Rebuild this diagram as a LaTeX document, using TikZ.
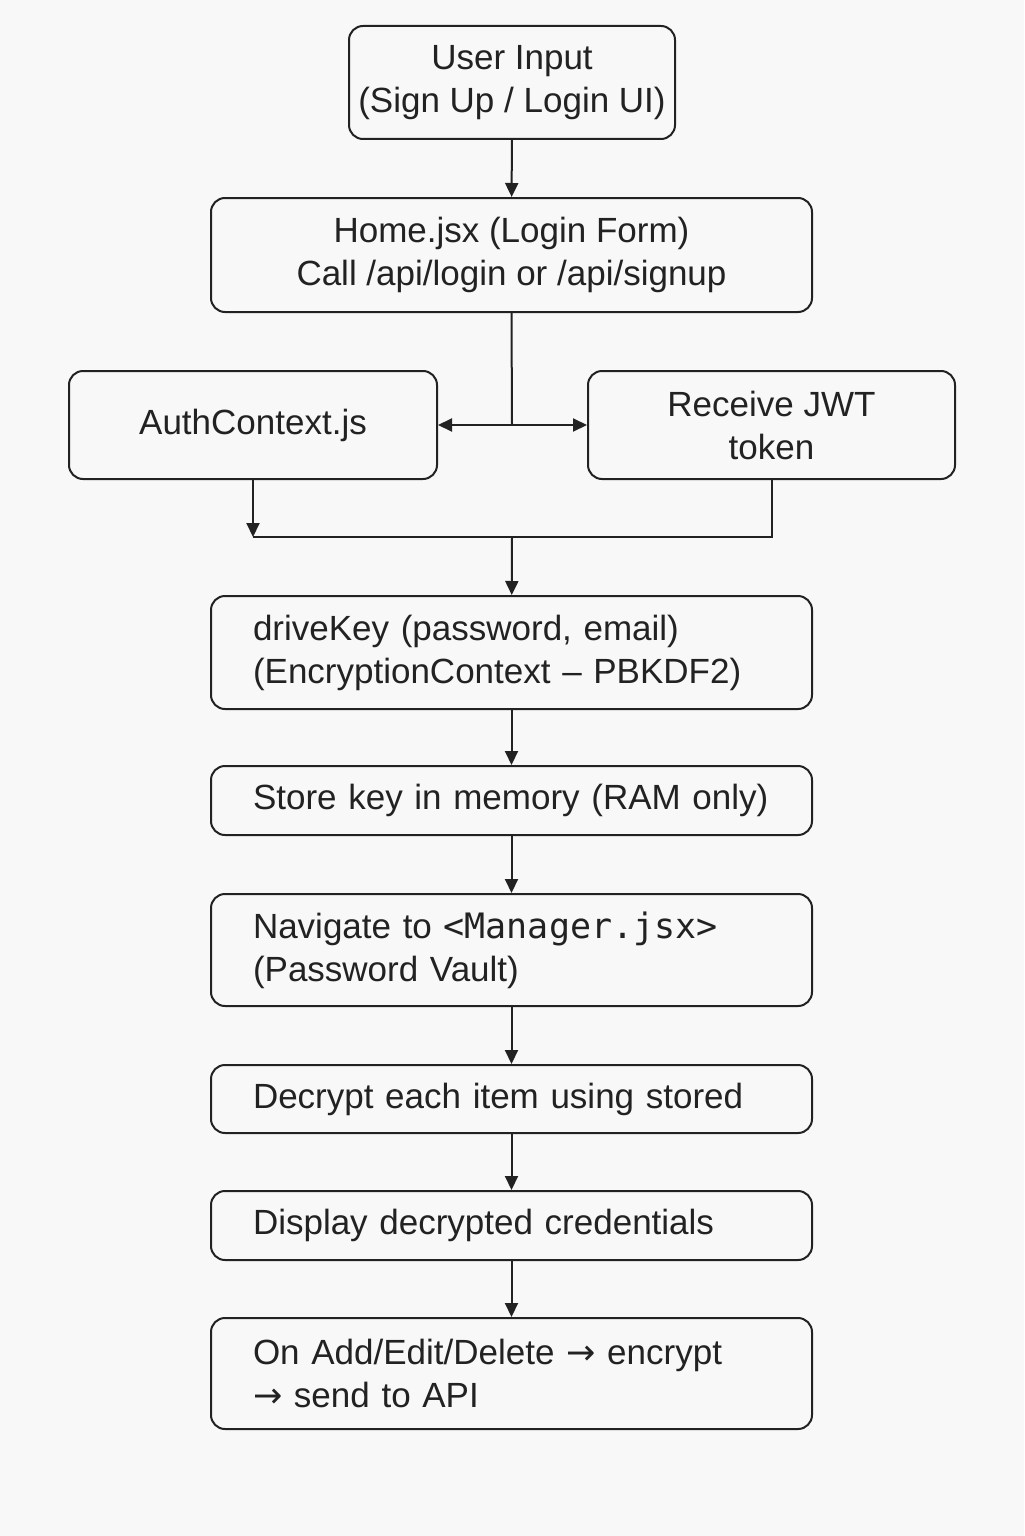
\documentclass[tikz,border=0pt]{standalone}
\usepackage{fontspec}
\setmainfont{Liberation Sans}
\setmonofont{DejaVu Sans Mono}
\newfontfamily\arrowfont{DejaVu Sans}
\usepackage{tikz}
\usepackage{xcolor}
\usetikzlibrary{arrows.meta}
\definecolor{pagecolor}{HTML}{F8F8F8}
\definecolor{linecolor}{HTML}{222222}
\tikzstyle{flowbox} =[
    draw=linecolor,
    line width=1pt,
    rounded corners=7pt,
    rectangle,
    text=linecolor,
    font=\fontsize{17.5}{21.5}\selectfont,
    inner xsep=21pt,
    text width=258.5pt,
    align=left
    ]
\tikzstyle{centerbox} =[
    draw=linecolor,
    line width=1pt,
    rounded corners=7pt,
    rectangle,
    text=linecolor,
    font=\fontsize{17.5}{21.5}\selectfont,
    inner xsep=4pt,
    align=center
    ]
\tikzstyle{flowline} =[draw=linecolor, line width=1pt]
\tikzstyle{flowarrow} =[flowline, -{Triangle[length=7pt,width=6.5pt]}]

\begin{document}
\begin{tikzpicture}[x=0.5pt, y=-0.5pt]
\useasboundingbox[fill=pagecolor] (0,0) rectangle (1024,1536);

\node [centerbox, minimum width=163pt, minimum height=56.5pt] (input) at (512,82.5)
    {User Input\\(Sign Up / Login UI)};
\node [centerbox, minimum width=300.5pt, minimum height=57pt] (home) at (511.5,255)
    {Home.jsx (Login Form)\\Call /api/login or /api/signup};
\node [centerbox, minimum width=184pt, minimum height=54pt] (auth) at (253,425)
    {AuthContext.js};
\node [centerbox, minimum width=183.5pt, minimum height=54pt] (jwt) at (771.5,425)
    {Receive JWT\\token};
\node [flowbox, minimum height=56.5pt] (derive) at (511.5,652.5)
    {driveKey (password, email)\\(EncryptionContext -- PBKDF2)};
\node [flowbox, minimum height=34.5pt] (store) at (511.5,800.5)
    {Store key in memory (RAM only)};
\node [flowbox, minimum height=56pt] (manager) at (511.5,950)
    {Navigate to \texttt{<Manager.jsx>}\\(Password Vault)};
\node [flowbox, minimum height=34pt] (decrypt) at (511.5,1099)
    {Decrypt each item using stored};
\node [flowbox, minimum height=34.5pt] (display) at (511.5,1225.5)
    {Display decrypted credentials};
\node [flowbox, minimum height=55.5pt] (save) at (511.5,1373.5)
    {On Add/Edit/Delete {\arrowfont →} encrypt\\{\arrowfont →} send to API};

\coordinate (split) at (512,425);
\coordinate (merge) at (512,537);

\draw [flowarrow] (input) -- (home);
\draw [flowline] (home.south) -- (split);
\draw [flowarrow] (split) -- (auth);
\draw [flowarrow] (split) -- (jwt);
\draw [flowarrow] (auth.south) -- (auth.south |- merge);
\draw [flowline] (jwt.south) -- (jwt.south |- merge) -- (auth.south |- merge);
\draw [flowarrow] (merge) -- (derive);
\draw [flowarrow] (derive) -- (store);
\draw [flowarrow] (store) -- (manager);
\draw [flowarrow] (manager) -- (decrypt);
\draw [flowarrow] (decrypt) -- (display);
\draw [flowarrow] (display) -- (save);
\end{tikzpicture}
\end{document}
